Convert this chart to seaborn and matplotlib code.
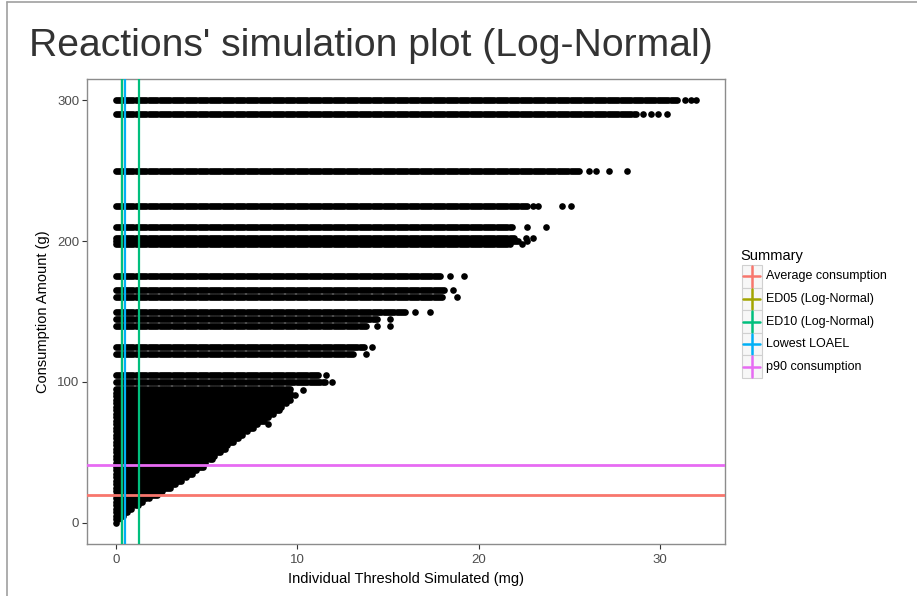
import numpy as np
import pandas as pd
import matplotlib
matplotlib.use("Agg")
import matplotlib.pyplot as plt
from matplotlib.lines import Line2D
from matplotlib.patches import Rectangle
import seaborn as sns

# ---- data -------------------------------------------------------------
# Fixed consumption amounts (g) that appear as horizontal bands
band_levels = [300, 290, 250, 225, 210, 202, 200, 198, 175, 165, 160,
               150, 145, 140, 125, 120, 105, 100]
# Threshold (mg) up to which each band is continuous
band_dense_end = [31.0, 28.7, 25.6, 22.7, 21.9, 22.0, 22.2, 21.8, 17.9, 18.2, 18.1,
                  16.0, 14.5, 13.9, 13.7, 13.1, 11.2, 11.6]
# Scattered simulated thresholds beyond the continuous part of each band
band_tail = [[31.4, 31.7, 32.0], [29.1, 29.5, 29.9, 30.4], [26.1, 26.5, 27.2, 28.2],
             [23.0, 23.3, 24.6, 25.1], [22.7, 23.7], [22.6, 23.0], [22.7], [22.4],
             [18.4, 19.2], [18.6], [18.8], [16.5, 17.3], [15.1], [14.4, 15.1],
             [14.1], [13.8], [11.6], [11.9]]

# Low consumption amounts form a dense cloud; largest threshold per amount
cloud_consumption = [0, 2.5, 5, 7.5, 10, 12.5, 15, 17.5, 20, 22.5, 25, 27.5, 30,
                     32.5, 35, 37.5, 40, 42.5, 45, 47.5, 50, 52.5, 55, 57.5, 60,
                     62.5, 65, 67.5, 70, 72.5, 75, 77.5, 80, 82.5, 85, 87.5, 90,
                     92.5, 95]
cloud_max_threshold = [0.0, 0.2, 0.4, 0.6, 0.9, 1.2, 1.5, 1.9, 2.3, 2.6, 3.0, 3.3,
                       3.6, 3.9, 4.2, 4.5, 4.8, 5.0, 5.3, 5.5, 5.8, 6.0, 6.2, 6.5,
                       6.8, 7.0, 7.3, 7.6, 7.9, 8.2, 8.5, 8.7, 9.0, 9.2, 9.4, 9.6,
                       9.7, 9.7, 9.6]
cloud_outlier_threshold = [8.4, 9.9, 10.3]
cloud_outlier_consumption = [70.5, 91.0, 94.0]

# Summary reference lines
summary_names = ["Average consumption", "ED05 (Log-Normal)", "ED10 (Log-Normal)",
                 "Lowest LOAEL", "p90 consumption"]
summary_colors = ["#F8766D", "#A3A500", "#00BF7D", "#00B0F6", "#E76BF3"]
hline_values = {"Average consumption": 19.5, "p90 consumption": 41.0}
vline_values = [("ED05 (Log-Normal)", 0.35), ("ED10 (Log-Normal)", 0.35),
                ("Lowest LOAEL", 0.47), ("ED10 (Log-Normal)", 1.25)]

# ---- build the simulated points -----------------------------------------
step = 0.12
xs, ys = [], []
for lvl, end, tail in zip(band_levels, band_dense_end, band_tail):
    row = np.arange(0.0, end + 1e-9, step)
    xs.extend(row); ys.extend([lvl] * len(row))
    xs.extend(tail); ys.extend([lvl] * len(tail))
for c, end in zip(cloud_consumption, cloud_max_threshold):
    row = np.arange(0.0, end + 1e-9, step)
    xs.extend(row); ys.extend([c] * len(row))
xs.extend(cloud_outlier_threshold); ys.extend(cloud_outlier_consumption)
df = pd.DataFrame({"threshold": xs, "consumption": ys})

# ---- figure -----------------------------------------------------------
sns.set_theme(style="white")
plt.rcParams["font.family"] = ["Liberation Sans", "DejaVu Sans"]

W, H = 917, 596
fig = plt.figure(figsize=(W / 100, H / 100), dpi=100)
fig.patch.set_facecolor("white")


def fx(px):
    return px / W


def fy(py):
    return 1 - py / H


ax = fig.add_axes([fx(87), fy(544), (725 - 87) / W, (544 - 79) / H])
sns.scatterplot(data=df, x="threshold", y="consumption", color="black",
                s=23, linewidth=0, legend=False, ax=ax, zorder=2)

color_of = dict(zip(summary_names, summary_colors))
for name, val in hline_values.items():
    ax.axhline(val, color=color_of[name], lw=2.0, zorder=3)
for name, val in vline_values:
    ax.axvline(val, color=color_of[name], lw=1.6, zorder=3)

ax.set_xlim(-1.6, 33.6)
ax.set_ylim(-15, 315)
ax.set_xticks([0, 10, 20, 30])
ax.set_yticks([0, 100, 200, 300])
ax.tick_params(axis="both", length=3.5, width=0.8, color="#333333",
               labelsize=9.5, labelcolor="#4D4D4D", direction="out",
               bottom=True, left=True)
ax.tick_params(axis="x", pad=4)
ax.tick_params(axis="y", pad=2)
for sp in ax.spines.values():
    sp.set_color("#8C8C8C")
    sp.set_linewidth(1.0)
ax.grid(False)
ax.set_xlabel("Individual Threshold Simulated (mg)", fontsize=10.5, color="black", labelpad=4)
ax.set_ylabel("Consumption Amount (g)", fontsize=10.5, color="black", labelpad=5)

# title
fig.text(fx(29), fy(56), "Reactions' simulation plot (Log-Normal)", fontsize=28.2,
         color="#333333", ha="left", va="baseline")

# outer frame of the page
fig.add_artist(Line2D([fx(7), fx(7)], [0, fy(2)], color="#A0A0A0", lw=1.2))
fig.add_artist(Line2D([fx(7), 1], [fy(2), fy(2)], color="#A0A0A0", lw=1.2))

# legend
fig.text(fx(740), fy(256), "Summary", fontsize=10.5, color="black", ha="left", va="center")
key_w, key_h = 20, 22.6
top = 265
for i, (name, col) in enumerate(zip(summary_names, summary_colors)):
    y0 = top + i * key_h
    cy = y0 + key_h / 2
    fig.add_artist(Rectangle((fx(741.5), fy(y0 + key_h)), key_w / W, key_h / H,
                             facecolor="#F7F7F7", edgecolor="#D0D0D0", lw=0.8,
                             transform=fig.transFigure))
    fig.add_artist(Line2D([fx(743), fx(760)], [fy(cy), fy(cy)], color=col, lw=1.8))
    fig.add_artist(Line2D([fx(751.5), fx(751.5)], [fy(y0 + 1), fy(y0 + key_h - 1)],
                          color=col, lw=1.8))
    fig.text(fx(766), fy(cy), name, fontsize=9.0, color="black", ha="left", va="center")

fig.savefig("out.png", dpi=100)
